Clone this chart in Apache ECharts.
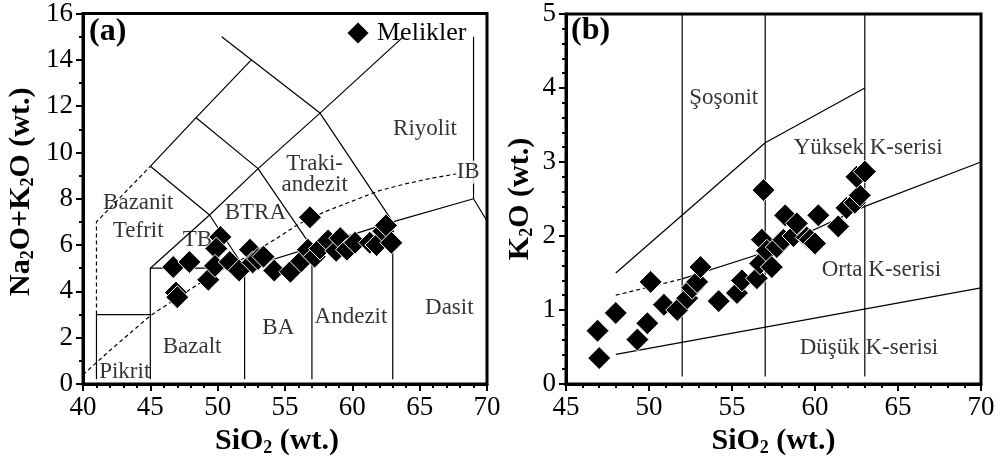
<!DOCTYPE html>
<html>
<head>
<meta charset="utf-8">
<script src="https://cdn.jsdelivr.net/npm/echarts@6/dist/echarts.min.js"></script>
<style>html,body{margin:0;padding:0;background:#fff}#c{width:1000px;height:463px}</style>
</head>
<body>
<div id="c"></div>
<script>
// ---- Panel (a) data : TAS diagram ----
var tasSiO2 = [46.7,46.9,47.0,47.9,49.3,50.2,49.9,49.8,50.9,51.6,52.4,52.6,53.0,53.4,54.2,55.4,56.2,56.7,56.85,57.2,57.6,58.2,58.8,59.1,59.6,60.2,61.3,61.8,62.3,62.5,62.9];
var tasAlk  = [5.05,3.95,3.75,5.27,4.5,6.35,5.85,5.1,5.27,4.9,5.8,5.25,5.4,5.5,4.9,4.85,5.3,5.8,7.2,5.5,5.85,6.2,5.75,6.3,5.8,6.1,6.1,6.0,6.6,6.85,6.1];
// ---- Panel (b) data : SiO2 vs K2O ----
var kSiO2 = [46.9,47.0,48.0,49.3,49.9,50.1,50.9,51.7,52.3,52.6,52.9,53.1,54.2,55.3,55.6,56.5,56.7,56.8,56.9,57.1,57.4,57.7,58.1,58.2,58.7,58.9,59.5,59.7,60.0,60.2,61.4,61.9,62.4,62.7,62.5,63.0];
var kK2O  = [0.72,0.35,0.96,0.6,0.82,1.38,1.07,1.0,1.16,1.3,1.38,1.58,1.12,1.23,1.4,1.43,1.63,1.95,2.62,1.8,1.58,1.85,1.95,2.28,2.0,2.17,1.98,1.95,1.9,2.28,2.13,2.38,2.45,2.55,2.8,2.87];

// field boundaries (a)
var tasSolidLines = [
  [[41,0.2],[41,3],[45,3]],
  [[45,0.2],[45,5],[52,5],[57,5.9],[63,7],[69,8],[70,7.04]],
  [[52,0.2],[52,5]],
  [[57,0.2],[57,5.9]],
  [[63,0.2],[63,7]],
  [[69,8],[69,15]],
  [[45,5],[49.4,7.3],[52,5]],
  [[45,9.4],[49.4,7.3]],
  [[45,9.4],[48.4,11.5],[52.5,14]],
  [[48.4,11.5],[53,9.3],[57,5.9]],
  [[49.4,7.3],[53,9.3],[57.6,11.7],[63.8,15]],
  [[50.3,15],[52.5,14],[57.6,11.7],[63,7]]
];
var tasDashedLines = [
  [[41,3],[41,7],[45,9.4]],
  [[40,0.4],[42,1.45],[45,2.95],[48,4.1],[50,4.85],[52,5.45],[54,6.15],[56,6.9],[58,7.45],[60,7.9],[62,8.35],[64,8.65],[66,8.9],[68,9.1]]
];
// field boundaries (b)
var kSolidLines = [
  [[52,0.1],[52,5]],
  [[57,0.1],[57,5]],
  [[63,0.1],[63,5]],
  [[48,1.5],[57,3.26],[63,4.0]],
  [[52,1.42],[57,1.78],[63,2.4],[70,3.0]],
  [[48,0.4],[70,1.3]]
];
var kDashedLines = [
  [[48,1.2],[52,1.42]]
];
// field names
var tasFieldNames = [
  ['Riyolit',65.4,11.0],['Traki-',57.2,9.5],['andezit',57.2,8.6],
  ['Bazanit',44.1,7.8],['Tefrit',44.1,6.6],['BTRA',52.8,7.37],['TB',48.5,6.2],
  ['Bazalt',48.1,1.6],['Pikrit',43.1,0.5],['BA',54.5,2.4],['Andezit',59.9,2.9],['Dasit',67.2,3.3]
];
var kFieldNames = [
  ['Şoşonit',54.5,3.86],['Yüksek K-serisi',63.2,3.19],['Orta K-serisi',64.0,1.54],['Düşük K-serisi',63.25,0.49]
];

var FONT = "'Liberation Serif','Times New Roman',serif";
var chart = echarts.init(document.getElementById('c'), null, {renderer:'canvas'});

function lineSeries(lines, xi, dashed){
  var data = [];
  lines.forEach(function(l, i){ if(i>0) data.push([null,null]); l.forEach(function(p){ data.push(p); }); });
  return {type:'line', xAxisIndex:xi, yAxisIndex:xi, data:data, showSymbol:false, symbol:'none', silent:true,
    connectNulls:false, z:2, lineStyle:{color:'#000', width:1.2, type: dashed ? [4,3] : 'solid'}};
}
function labelSeries(items, xi){
  return {type:'scatter', xAxisIndex:xi, yAxisIndex:xi, symbolSize:0, silent:true, z:1,
    data: items.map(function(t){ return {name:t[0], value:[t[1], t[2]]}; }),
    label:{show:true, position:'inside', formatter:'{b}', color:'#000', fontSize:23, fontFamily:FONT}};
}
function toPairs(xs, ys){ return xs.map(function(x,i){ return [x, ys[i]]; }); }

function nameRich(){
  return {
    t:{fontSize:30, fontWeight:'bold', fontFamily:FONT, color:'#000', lineHeight:32},
    s:{fontSize:18, fontWeight:'bold', fontFamily:FONT, color:'#000', lineHeight:8, verticalAlign:'bottom'}
  };
}
function tick(){ return {show:true, length:7, lineStyle:{color:'#000', width:2}}; }
function minor(n){ return {show:true, splitNumber:n, length:4, lineStyle:{color:'#000', width:2}}; }
function lab(){ return {color:'#000', fontSize:27, fontFamily:FONT, margin:10}; }
var axLine = {show:true, onZero:false, lineStyle:{color:'#000', width:3}};

var option = {
  animation:false,
  backgroundColor:'#fff',
  grid:[
    {left:83, top:13, width:404, height:371, show:true, borderColor:'#000', borderWidth:3, backgroundColor:'transparent'},
    {left:566, top:14, width:415, height:370, show:true, borderColor:'#000', borderWidth:3, backgroundColor:'transparent'}
  ],
  xAxis:[
    {type:'value', gridIndex:0, min:40, max:70, interval:5, axisLine:axLine, axisTick:tick(), minorTick:minor(5), splitLine:{show:false}, axisLabel:lab(),
      name:'{t|SiO}{s|2}{t| (wt.)}', nameLocation:'middle', nameGap:40, nameTextStyle:{rich:nameRich(), padding:[0,16,0,0]}},
    {type:'value', gridIndex:1, min:45, max:70, interval:5, axisLine:axLine, axisTick:tick(), minorTick:minor(5), splitLine:{show:false}, axisLabel:lab(),
      name:'{t|SiO}{s|2}{t| (wt.)}', nameLocation:'middle', nameGap:40, nameTextStyle:{rich:nameRich()}}
  ],
  yAxis:[
    {type:'value', gridIndex:0, min:0, max:16, interval:2, axisLine:axLine, axisTick:tick(), minorTick:minor(2), splitLine:{show:false}, axisLabel:lab(),
      name:'{t|Na}{s|2}{t|O+K}{s|2}{t|O (wt.)}', nameLocation:'middle', nameRotate:90, nameGap:46, nameTextStyle:{rich:nameRich(), padding:[0,0,0,14]}},
    {type:'value', gridIndex:1, min:0, max:5, interval:1, axisLine:axLine, axisTick:tick(), minorTick:minor(5), splitLine:{show:false}, axisLabel:lab(),
      name:'{t|K}{s|2}{t|O (wt.)}', nameLocation:'middle', nameRotate:90, nameGap:30, nameTextStyle:{rich:nameRich()}}
  ],
  legend:{
    data:['Melikler'], left:340, top:15, itemWidth:24, itemHeight:24, icon:'diamond',
    textStyle:{fontSize:26, fontFamily:FONT, color:'#000', padding:[0,0,0,2]}
  },
  graphic:[
    {type:'text', left:89, top:16, style:{text:'(a)', font:'bold 32px '+FONT, fill:'#000'}},
    {type:'text', left:571, top:15, style:{text:'(b)', font:'bold 32px '+FONT, fill:'#000'}}
  ],
  series:[
    lineSeries(tasSolidLines, 0, false),
    lineSeries(tasDashedLines, 0, true),
    lineSeries(kSolidLines, 1, false),
    lineSeries(kDashedLines, 1, true),
    labelSeries(tasFieldNames, 0),
    {type:'scatter', xAxisIndex:0, yAxisIndex:0, symbolSize:0, silent:true, z:3,
      data:[{name:'IB', value:[68.6,9.15]}],
      label:{show:true, position:'inside', formatter:'{b}', color:'#000', fontSize:23, fontFamily:FONT, backgroundColor:'#fff', padding:[0,1]}},
    labelSeries(kFieldNames, 1),
    {name:'Melikler', type:'scatter', xAxisIndex:0, yAxisIndex:0, data:toPairs(tasSiO2, tasAlk), symbol:'diamond', symbolSize:23, z:5,
      itemStyle:{color:'#000', borderColor:'#fff', borderWidth:1, opacity:1}},
    {name:'Melikler', type:'scatter', xAxisIndex:1, yAxisIndex:1, data:toPairs(kSiO2, kK2O), symbol:'diamond', symbolSize:23, z:5,
      itemStyle:{color:'#000', borderColor:'#fff', borderWidth:1, opacity:1}}
  ]
};
chart.setOption(option);
</script>
</body>
</html>
